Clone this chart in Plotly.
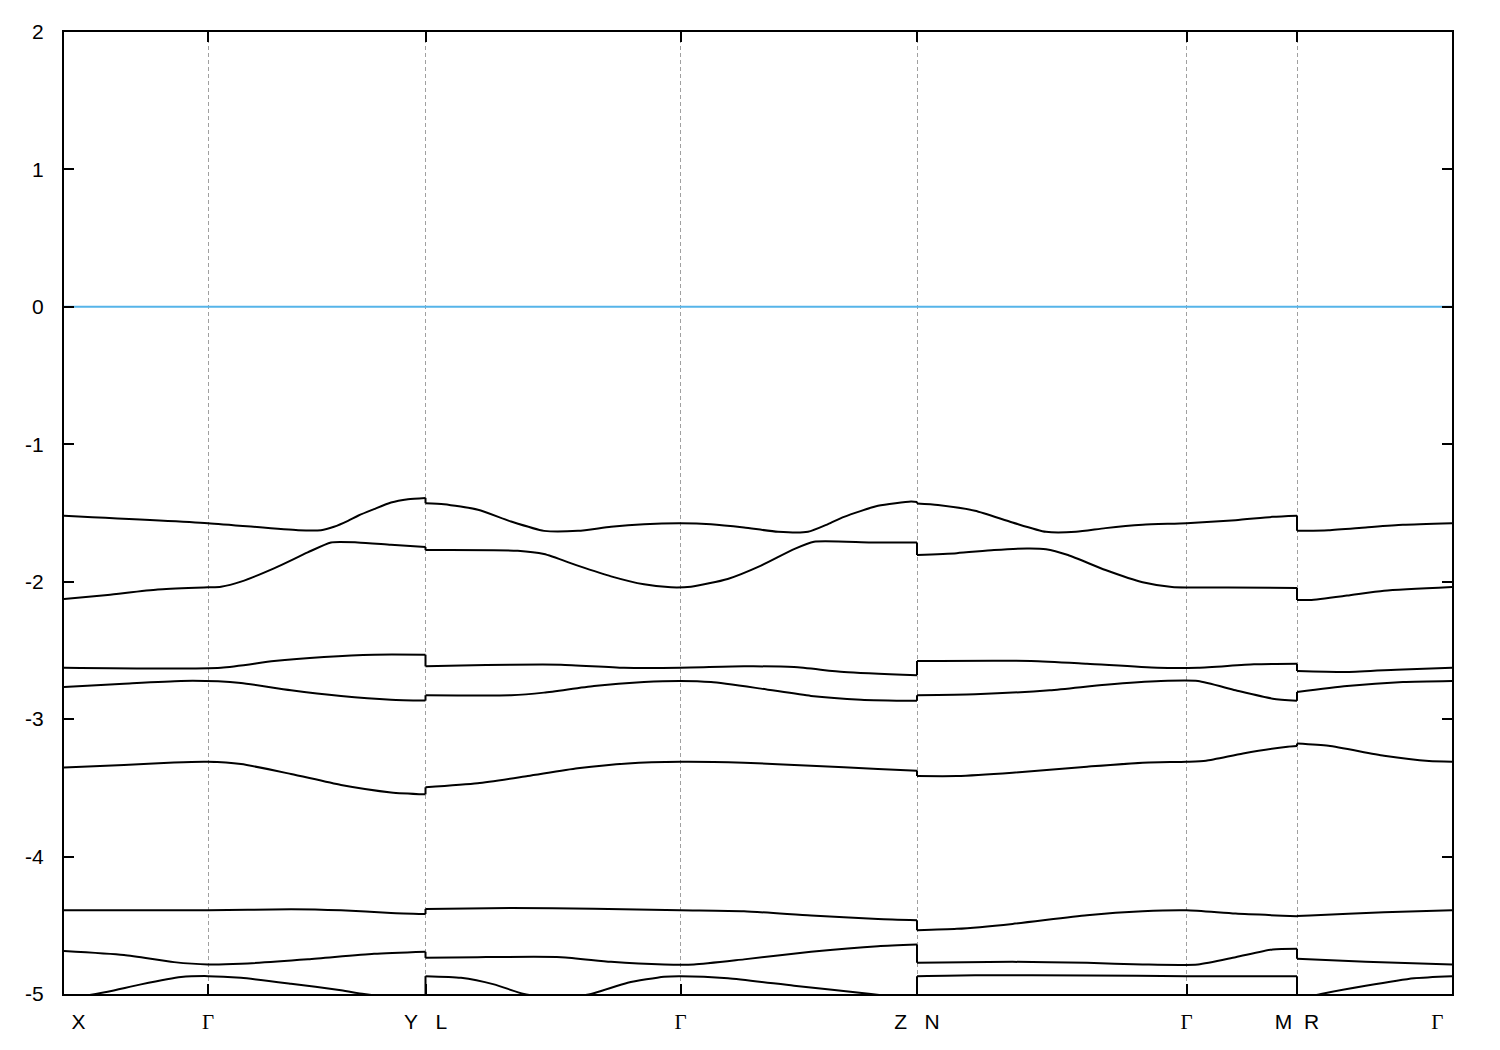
import plotly.graph_objects as go

# High-symmetry points along the k-path (path length, arbitrary units)
tick_k = [0.0, 0.144, 0.3615, 0.6165, 0.853, 1.1225, 1.233, 1.388]
NB = "\u00a0"
G = '<span style="font-family:Liberation Serif">Γ</span>'
tick_labels = [NB * 5 + "X", G, "Y" + NB * 3 + "L", G, "Z" + NB * 3 + "N", G,
               "M" + NB * 2 + "R", G + NB * 5]

energy_ticks = [2, 1, 0, -1, -2, -3, -4, -5]
energy_labels = ["2", "1", "0", "-1", "-2", "-3", "-4", "-5"]
fermi_level = 0.0

# Bands: k and energy (eV); repeated k marks the path breaks Y|L, Z|N, M|R
band1_k = [0, .144, .234, .257, .270, .284, .294, .310, .327, .344, .3615,
           .3615, .380, .414, .447, .480, .514, .547, .580, .6165, .647, .680, .714, .744, .764, .780, .814, .847, .853,
           .853, .874, .911, .9485, .982, 1.012, 1.0415, 1.0786, 1.1225, 1.1716, 1.2087, 1.233,
           1.233, 1.2645, 1.3017, 1.3389, 1.388]
band1_E = [-1.520, -1.574, -1.625, -1.625, -1.600, -1.557, -1.520, -1.472, -1.424, -1.400, -1.390,
           -1.429, -1.436, -1.477, -1.562, -1.630, -1.630, -1.600, -1.581, -1.574, -1.581, -1.605, -1.637, -1.637, -1.581, -1.528, -1.448, -1.417, -1.420,
           -1.430, -1.441, -1.484, -1.569, -1.637, -1.637, -1.610, -1.586, -1.574, -1.552, -1.528, -1.520,
           -1.630, -1.625, -1.605, -1.586, -1.574]

band2_k = [0, .0437, .0937, .144, .157, .177, .210, .2437, .267, .2937, .327, .3615,
           .3615, .4537, .480, .5137, .547, .580, .607, .627, .6637, .697, .730, .750, .807, .853,
           .853, .8928, .930, .963, .982, 1.004, 1.0415, 1.0786, 1.108, 1.164, 1.233,
           1.233, 1.246, 1.283, 1.320, 1.388]
band2_E = [-2.125, -2.096, -2.057, -2.041, -2.036, -1.999, -1.903, -1.787, -1.714, -1.714, -1.731, -1.747,
           -1.770, -1.775, -1.799, -1.883, -1.961, -2.019, -2.041, -2.036, -1.980, -1.883, -1.763, -1.709, -1.714, -1.714,
           -1.806, -1.792, -1.770, -1.758, -1.763, -1.806, -1.915, -2.004, -2.038, -2.043, -2.045,
           -2.133, -2.133, -2.101, -2.065, -2.038]

band3_k = [0, .157, .210, .260, .310, .3615,
           .3615, .397, .447, .497, .560, .6165, .680, .730, .780, .853,
           .853, .967, 1.023, 1.0935, 1.134, 1.190, 1.233,
           1.233, 1.283, 1.339, 1.388]
band3_E = [-2.626, -2.626, -2.577, -2.548, -2.531, -2.531,
           -2.616, -2.609, -2.604, -2.604, -2.626, -2.626, -2.616, -2.621, -2.657, -2.681,
           -2.577, -2.577, -2.597, -2.626, -2.626, -2.601, -2.597,
           -2.650, -2.657, -2.638, -2.626]

band4_k = [0, .060, .117, .154, .177, .227, .277, .327, .3615,
           .3615, .447, .480, .530, .580, .6165, .647, .697, .747, .797, .853,
           .853, .911, .9857, 1.0415, 1.097, 1.134, 1.1716, 1.2087, 1.233,
           1.233, 1.283, 1.339, 1.388]
band4_E = [-2.766, -2.742, -2.722, -2.725, -2.737, -2.790, -2.831, -2.858, -2.865,
           -2.826, -2.826, -2.807, -2.759, -2.730, -2.722, -2.730, -2.778, -2.831, -2.858, -2.867,
           -2.826, -2.819, -2.790, -2.749, -2.722, -2.722, -2.790, -2.851, -2.867,
           -2.802, -2.759, -2.730, -2.722]

band5_k = [0, .060, .110, .144, .177, .227, .277, .327, .3615,
           .3615, .4137, .4637, .5137, .5637, .6165, .680, .747, .814, .853,
           .853, .8928, .9485, 1.023, 1.0786, 1.1225, 1.142, 1.179, 1.2236, 1.233,
           1.233, 1.2645, 1.320, 1.365, 1.388]
band5_E = [-3.351, -3.334, -3.315, -3.310, -3.327, -3.399, -3.479, -3.533, -3.547,
           -3.496, -3.467, -3.414, -3.358, -3.322, -3.310, -3.317, -3.339, -3.363, -3.375,
           -3.414, -3.414, -3.390, -3.346, -3.317, -3.310, -3.303, -3.250, -3.201, -3.196,
           -3.177, -3.194, -3.266, -3.305, -3.310]

band6_k = [0, .144, .227, .277, .327, .3615,
           .3615, .447, .530, .6165, .680, .747, .814, .853,
           .853, .8928, .9485, 1.023, 1.0786, 1.1225, 1.1716, 1.233,
           1.233, 1.246, 1.320, 1.388]
band6_E = [-4.391, -4.391, -4.383, -4.391, -4.410, -4.418,
           -4.381, -4.374, -4.379, -4.391, -4.398, -4.429, -4.454, -4.463,
           -4.536, -4.526, -4.490, -4.427, -4.398, -4.391, -4.415, -4.434,
           -4.432, -4.429, -4.405, -4.391]

band7_k = [0, .060, .110, .144, .177, .244, .310, .3615,
           .3615, .4137, .497, .547, .600, .630, .680, .747, .814, .853,
           .853, .9485, 1.023, 1.0786, 1.134, 1.1716, 1.2087, 1.233,
           1.233, 1.3017, 1.388]
band7_E = [-4.688, -4.717, -4.768, -4.785, -4.780, -4.748, -4.708, -4.693,
           -4.737, -4.732, -4.732, -4.766, -4.785, -4.785, -4.748, -4.693, -4.652, -4.640,
           -4.773, -4.766, -4.773, -4.785, -4.785, -4.732, -4.676, -4.671,
           -4.744, -4.766, -4.785]

band8_k = [0, .0437, .077, .117, .144, .177, .227, .277, .300, .3615,
           .3615, .397, .430, .460, .493, .527, .5637, .600, .6165, .664, .730, .807, .853,
           .853, .911, 1.023, 1.1225, 1.233,
           1.233, 1.257, 1.3017, 1.350, 1.388]
band8_E = [-5.04, -4.983, -4.930, -4.877, -4.870, -4.882, -4.925, -4.973, -5.0, -5.06,
           -4.870, -4.882, -4.930, -5.0, -5.03, -5.0, -4.918, -4.874, -4.870, -4.885, -4.940, -5.0, -5.04,
           -4.870, -4.863, -4.865, -4.870, -4.870,
           -5.04, -5.0, -4.940, -4.885, -4.870]

bands = [(band1_k, band1_E), (band2_k, band2_E), (band3_k, band3_E), (band4_k, band4_E),
         (band5_k, band5_E), (band6_k, band6_E), (band7_k, band7_E), (band8_k, band8_E)]

fig = go.Figure()
line_style = dict(color="black", width=2)
for bk, be in bands:
    # split each band at the path breaks (repeated k values)
    start = 0
    for i in range(1, len(bk) + 1):
        if i == len(bk) or bk[i] == bk[i - 1]:
            fig.add_trace(go.Scatter(x=bk[start:i], y=be[start:i], mode="lines",
                                     line=dict(line_style, shape="spline", smoothing=0.6),
                                     showlegend=False, hoverinfo="skip"))
            if i < len(bk):
                # vertical jump at the break, as in the original plot
                fig.add_trace(go.Scatter(x=bk[i - 1:i + 1], y=be[i - 1:i + 1], mode="lines",
                                         line=line_style, showlegend=False, hoverinfo="skip"))
            start = i

fig.add_trace(go.Scatter(x=[tick_k[0], tick_k[-1]], y=[fermi_level, fermi_level], mode="lines",
                         line=dict(color="#56b4e9", width=2), showlegend=False, hoverinfo="skip"))

fig.update_layout(
    width=1500, height=1050,
    margin=dict(l=56, r=56, t=21, b=64),
    paper_bgcolor="white", plot_bgcolor="white",
    font=dict(family="Liberation Sans, Arial, sans-serif", size=21, color="black"),
    showlegend=False,
)
fig.update_xaxes(
    range=[tick_k[0], tick_k[-1]], tickmode="array", tickvals=tick_k, ticktext=tick_labels,
    showline=True, linecolor="black", linewidth=2, mirror="ticks",
    ticks="inside", ticklen=10, tickwidth=2, tickcolor="black",
    showgrid=True, gridcolor="#a0a0a0", gridwidth=1, griddash="4px,3px",
    zeroline=False, ticklabelstandoff=8,
)
fig.update_yaxes(
    range=[-5, 2], tickmode="array", tickvals=energy_ticks, ticktext=energy_labels,
    showline=True, linecolor="black", linewidth=2, mirror="ticks",
    ticks="inside", ticklen=10, tickwidth=2, tickcolor="black",
    showgrid=False, zeroline=False, ticklabelstandoff=14,
)

fig.write_html("out.html")
